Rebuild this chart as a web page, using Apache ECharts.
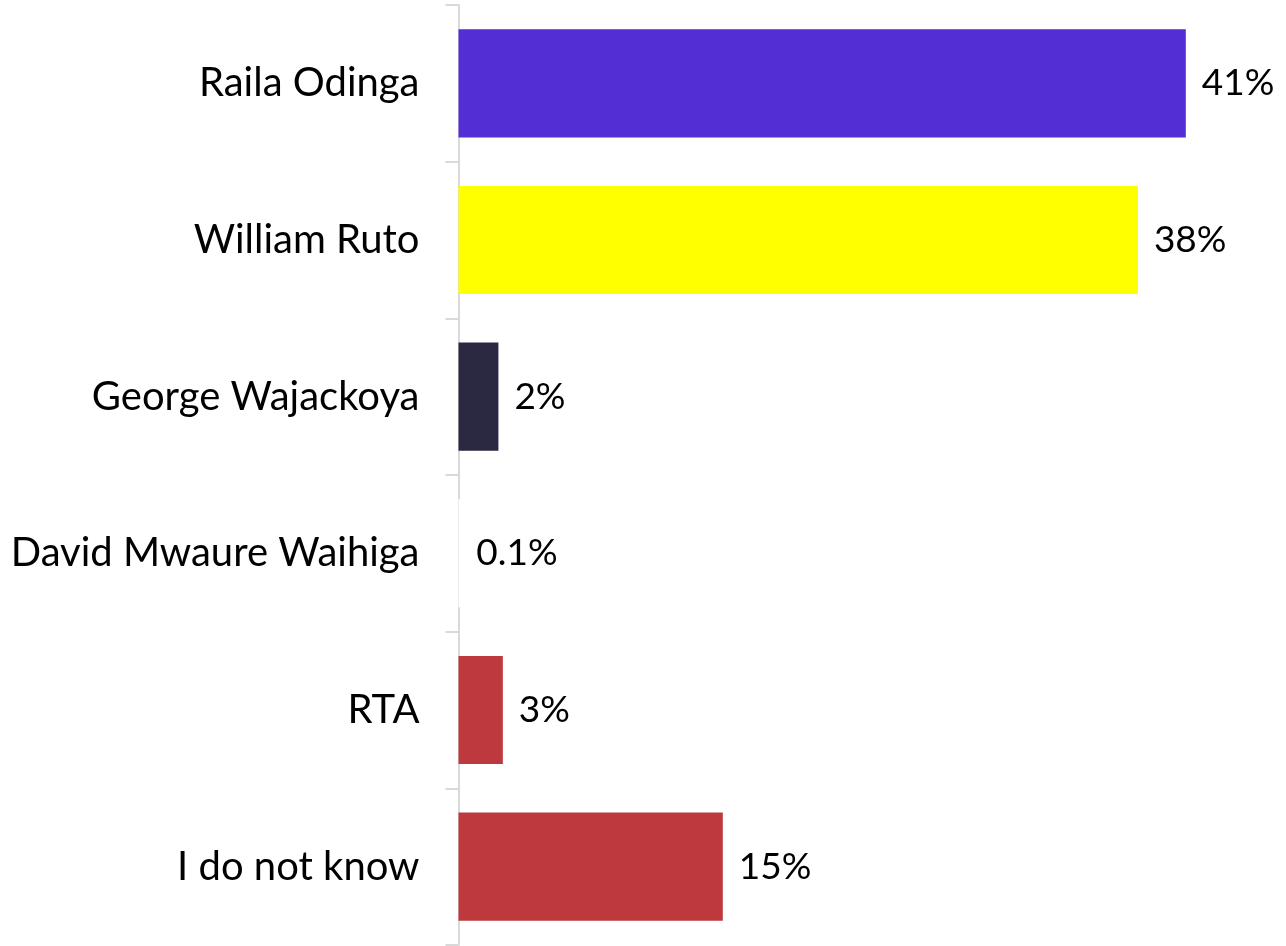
<!DOCTYPE html>
<html>
<head>
<meta charset="utf-8">
<script src="https://cdn.jsdelivr.net/npm/echarts@6/dist/echarts.min.js"></script>
<style>
html,body{margin:0;padding:0;background:#fff;}
#chart{width:1286px;height:946px;}
</style>
</head>
<body>
<div id="chart"></div>
<script>
const categories = ["Raila Odinga", "William Ruto", "George Wajackoya", "David Mwaure Waihiga", "RTA", "I do not know"];
const values = [41, 38.3, 2.25, 0.1, 2.5, 14.9];
const valueLabels = ["41%", "38%", "2%", "0.1%", "3%", "15%"];
const barColors = ["#522ed4", "#ffff00", "#2a2941", "#ffffff", "#be393e", "#be393e"];

const chart = echarts.init(document.getElementById('chart'));
const FONT = 'Lato';
chart.setOption({
  animation: false,
  grid: {left: 458.5, right: 11.5, top: 5, bottom: 1, containLabel: false},
  xAxis: {
    type: 'value', min: 0, max: 46,
    show: false
  },
  yAxis: {
    type: 'category',
    data: categories,
    inverse: true,
    offset: 2,
    axisLine: {show: true, lineStyle: {color: '#d9d9d9', width: 2}},
    axisTick: {show: true, length: 13, lineStyle: {color: '#d9d9d9', width: 2}},
    axisLabel: {color: '#000', fontSize: 40, fontFamily: FONT, margin: 37}
  },
  series: [{
    type: 'bar',
    barCategoryGap: '31%',
    data: values.map((v, i) => ({value: v, itemStyle: {color: barColors[i]}})),
    label: {
      show: true, position: 'right', distance: 16,
      color: '#000', fontSize: 37, fontFamily: FONT,
      formatter: p => valueLabels[p.dataIndex]
    }
  }]
});
</script>
</body>
</html>
